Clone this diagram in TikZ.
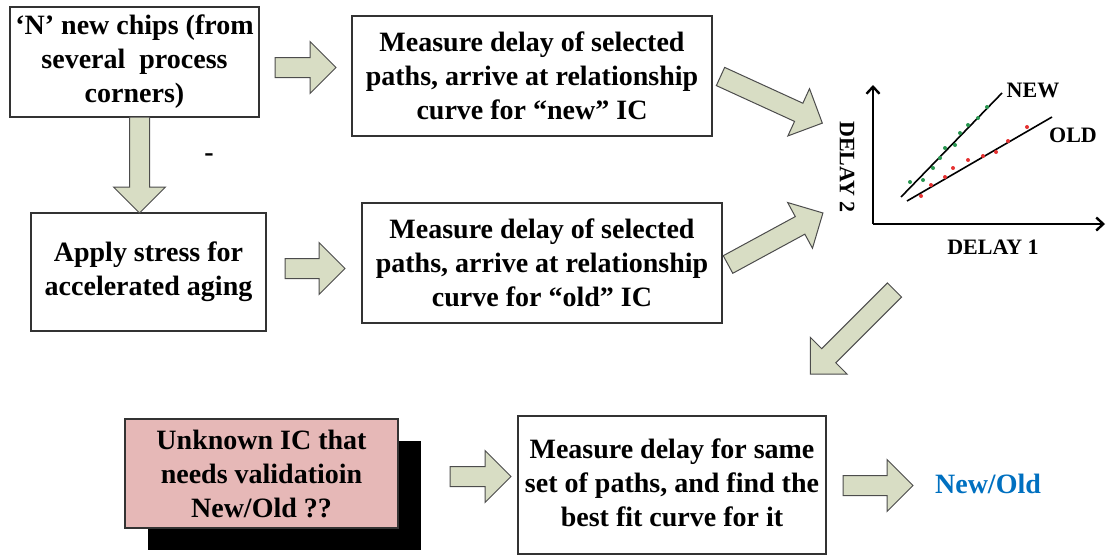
\documentclass[tikz,border=0pt]{standalone}
\usepackage{fontspec}
\setmainfont{Liberation Serif}
\usetikzlibrary{shadows,arrows.meta}

\definecolor{arrowgreen}{RGB}{216,221,196}
\definecolor{boxpink}{RGB}{230,184,183}
\definecolor{resultblue}{RGB}{0,112,192}
\definecolor{dotgreen}{RGB}{40,150,80}
\definecolor{dotred}{RGB}{230,50,50}

\tikzset{
  stepbox/.style={draw=black!80,line width=1.1pt,align=center,inner sep=0pt,
    font=\fontsize{28}{34}\selectfont\bfseries},
  arrowbody/.style={draw=black!70,fill=arrowgreen,line width=1pt,line join=miter},
  pics/fatarrow/.style={code={
    \draw[arrowbody] (0,-10) -- (#1-26,-10) -- (#1-26,-26) -- (#1,0)
      -- (#1-26,26) -- (#1-26,10) -- (0,10) -- cycle;}},
  axislabel/.style={font=\fontsize{22}{26}\selectfont\bfseries},
}

\begin{document}
\begin{tikzpicture}[x=1pt,y=-1pt]
\useasboundingbox (0,0) rectangle (1107,555);

% boxes
\node[stepbox,minimum width=249pt,minimum height=110pt] (chips) at (134.5,62)
  {‘N’ new chips (from\\several~ process\\corners)};
\node[stepbox,minimum width=360pt,minimum height=120pt] (newcurve) at (532,76)
  {Measure delay of selected\\paths, arrive at relationship\\curve for “new” IC};
\node[stepbox,minimum width=235pt,minimum height=118pt] (stress) at (148.5,272)
  {Apply stress for\\accelerated aging};
\node[stepbox,minimum width=360pt,minimum height=120pt] (oldcurve) at (542,263)
  {Measure delay of selected\\paths, arrive at relationship\\curve for “old” IC};
\node[stepbox,fill=boxpink,minimum width=273pt,minimum height=109pt,
  drop shadow={shadow xshift=23pt,shadow yshift=-22pt,fill=black,opacity=1}] (unknown) at (261.5,473.5)
  {Unknown IC that\\needs validatioin\\New/Old ??};
\node[stepbox,minimum width=308pt,minimum height=138pt,text depth=4pt] (bestfit) at (672,485)
  {Measure delay for same\\set of paths, and find the\\best fit curve for it};
\node[font=\fontsize{28}{34}\selectfont\bfseries,text=resultblue] (result) at (988,484) {New/Old};
\node[font=\fontsize{28}{34}\selectfont\bfseries] (dash) at (209,158) {-};

% block arrows
\pic (arrchips)  at (275,67.5)   {fatarrow=61};
\pic[rotate=-90] (arrdown) at (139.5,117) {fatarrow=96};
\pic (arrstress) at (285,268.5)  {fatarrow=60};
\pic[rotate=-24.6] (arrnew) at (720.5,76.5) {fatarrow=112};
\pic[rotate=28.5] (arrold) at (728,264.5) {fatarrow=108};
\pic[rotate=-135] (arrback) at (894.5,290) {fatarrow=119};
\pic (arrunknown) at (450,476.5) {fatarrow=61};
\pic (arrfit) at (843,485.5) {fatarrow=70};

% delay plot
\coordinate (origin) at (873,224);
\coordinate (ytop) at (873,85);
\coordinate (xend) at (1105,224);
\draw[line width=2.4pt,-{Straight Barb[length=7pt,width=13pt]}] (origin) -- (ytop);
\draw[line width=2.4pt,-{Straight Barb[length=7pt,width=13pt]}] (origin) -- (xend);
\draw[line width=1.6pt] (901,197) -- (1002,93);
\draw[line width=1.6pt] (907,201) -- (1052,117);
\foreach \px/\py in {910/182,923/180,933/168,940/158,945/148,955/145,960/133,968/125,978/118,987/107}
  \fill[dotgreen] (\px,\py) circle (2pt);
\foreach \px/\py in {921/196,931/185,945/177,953/168,968/160,983/156,996/152,1008/141,1027/127}
  \fill[dotred] (\px,\py) circle (2pt);
\node[axislabel] (newlbl) at (1033,90) {NEW};
\node[axislabel] (oldlbl) at (1073,135) {OLD};
\node[axislabel] (delayx) at (993,247) {DELAY 1};
\node[axislabel,rotate=-90] (delayy) at (847,167) {DELAY 2};
\end{tikzpicture}
\end{document}
